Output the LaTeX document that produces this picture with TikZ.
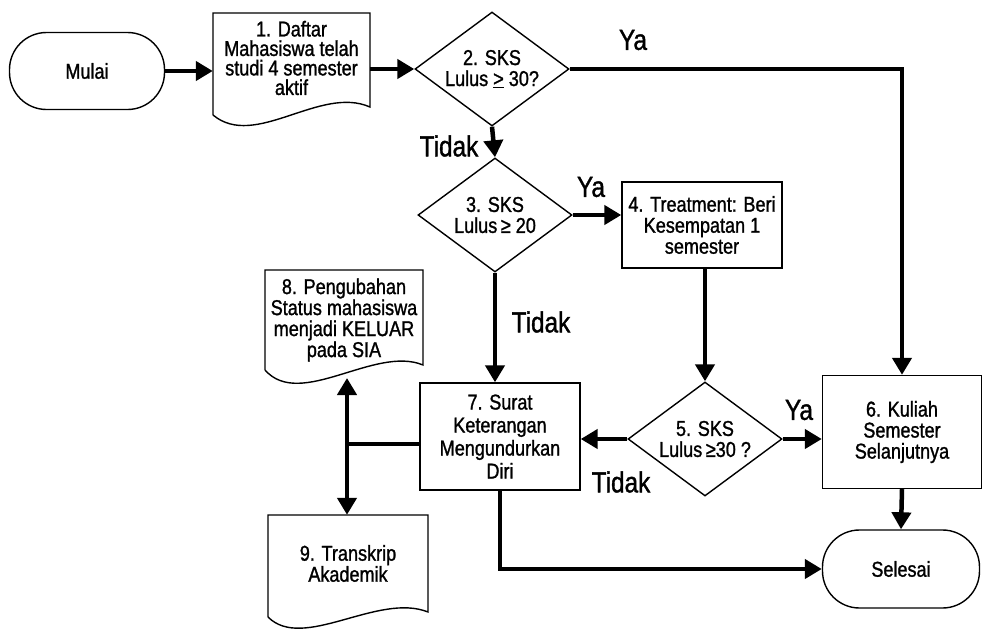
\documentclass[tikz,border=0pt]{standalone}
\usepackage{fontspec}
\setmainfont{Liberation Sans}[FakeStretch=0.84,FakeBold=1.2]
\usetikzlibrary{arrows.meta,shapes.geometric}
\begin{document}
\begin{tikzpicture}[x=1pt,y=-1pt,
  every node/.style={font=\fontsize{21.5}{21}\selectfont, align=center},
  box/.style={draw, line width=1.4pt, rectangle, inner sep=2pt},
  term/.style={draw, line width=1.4pt, rectangle, rounded corners=37pt, minimum width=155pt, minimum height=77pt},
  doc/.style={rectangle, inner sep=0pt},
  dia/.style={draw, line width=1.4pt, diamond, inner sep=0pt, minimum width=154pt, minimum height=114pt},
  outline/.style={line width=1.4pt},
  arr/.style={line width=4.5pt, -{Triangle[length=17pt,width=19pt]}},
  barr/.style={line width=4.5pt, {Triangle[length=17pt,width=19pt]}-{Triangle[length=17pt,width=19pt]}},
  ln/.style={line width=4.5pt},
  lbl/.style={font=\fontsize{29}{29}\selectfont}
]
\useasboundingbox (0,0) rectangle (983,630);

% nodes
\node[term] (m) at (87,71) {Mulai};
\node[doc, minimum width=157pt, minimum height=90pt] (n1) at (291.5,58)
  {1. Daftar\\[-1.5pt]Mahasiswa telah\\[-1.5pt]studi 4 semester\\[-1.5pt]aktif};
\draw[outline] (213,115) -- (213,13) -- (370,13) -- (370,107)
  .. controls (320,85) and (255,150) .. (213,115);

\node[dia, label={[align=center]center:{2. SKS\\Lulus \underline{>} 30?}}] (d2) at (492,69) {};
\node[dia, label={[align=center]center:{3. SKS\\Lulus{\,}≥ 20}}] (d3) at (495,215) {};
\node[box, minimum width=160pt, minimum height=86pt] (n4) at (702,225)
  {4. Treatment: Beri\\Kesempatan 1\\semester};
\node[dia, label={[align=center]center:{5. SKS\\Lulus{\,}≥30 ?}}] (d5) at (705,439) {};
\node[box, minimum width=159pt, minimum height=113pt] (n6) at (902,432)
  {6. Kuliah\\Semester\\Selanjutnya};
\node[term, minimum width=157pt, minimum height=78pt] (sel) at (901,569) {Selesai};
\node[box, minimum width=160pt, minimum height=107pt, font=\fontsize{21.5}{23}\selectfont] (n7) at (500,436.5)
  {7. Surat\\Keterangan\\Mengundurkan\\Diri};

\node[doc, minimum width=158pt, minimum height=100pt] (n8) at (344,320)
  {8. Pengubahan\\Status mahasiswa\\menjadi KELUAR\\pada SIA};
\draw[outline] (265,370) -- (265,270) -- (423,270) -- (423,365)
  .. controls (375,345) and (300,410) .. (265,370);

\node[doc, minimum width=160pt, minimum height=97pt] (n9) at (348,563.5)
  {9. Transkrip\\Akademik};
\draw[outline] (268,617) -- (268,515) -- (428,515) -- (428,612)
  .. controls (378,592) and (303,652) .. (268,617);

\coordinate (b8) at (347,378);
\coordinate (j) at (347,444);

% connectors
\draw[arr] (m.east) -- (m.east -| n1.west);
\draw[arr] (d2.west -| n1.east) -- (d2.west);
\draw[arr] (d2.east) -| (n6.north);
\draw[arr] (d2.south) -- (d3.north);
\draw[arr] (d3.east) -- (n4.west |- d3.east);
\draw[arr] (n4.south -| d5.north) -- (d5.north);
\draw[arr] (d3.south) -- (d3.south |- n7.north);
\draw[arr] (d5.east) -- (n6.west |- d5.east);
\draw[arr] (d5.west) -- (n7.east |- d5.west);
\draw[arr] (n6.south) -- (sel.north);
\draw[arr] (n7.south) |- (sel.west);
\draw[ln] (n7.west |- j) -- (j);
\draw[barr] (b8) -- (b8 |- n9.north);

% labels
\node[lbl] at (633,40) {Ya};
\node[lbl] at (449,146) {Tidak};
\node[lbl] at (591,187) {Ya};
\node[lbl] at (541,322) {Tidak};
\node[lbl] at (799,410) {Ya};
\node[lbl] at (621,482) {Tidak};
\end{tikzpicture}
\end{document}
